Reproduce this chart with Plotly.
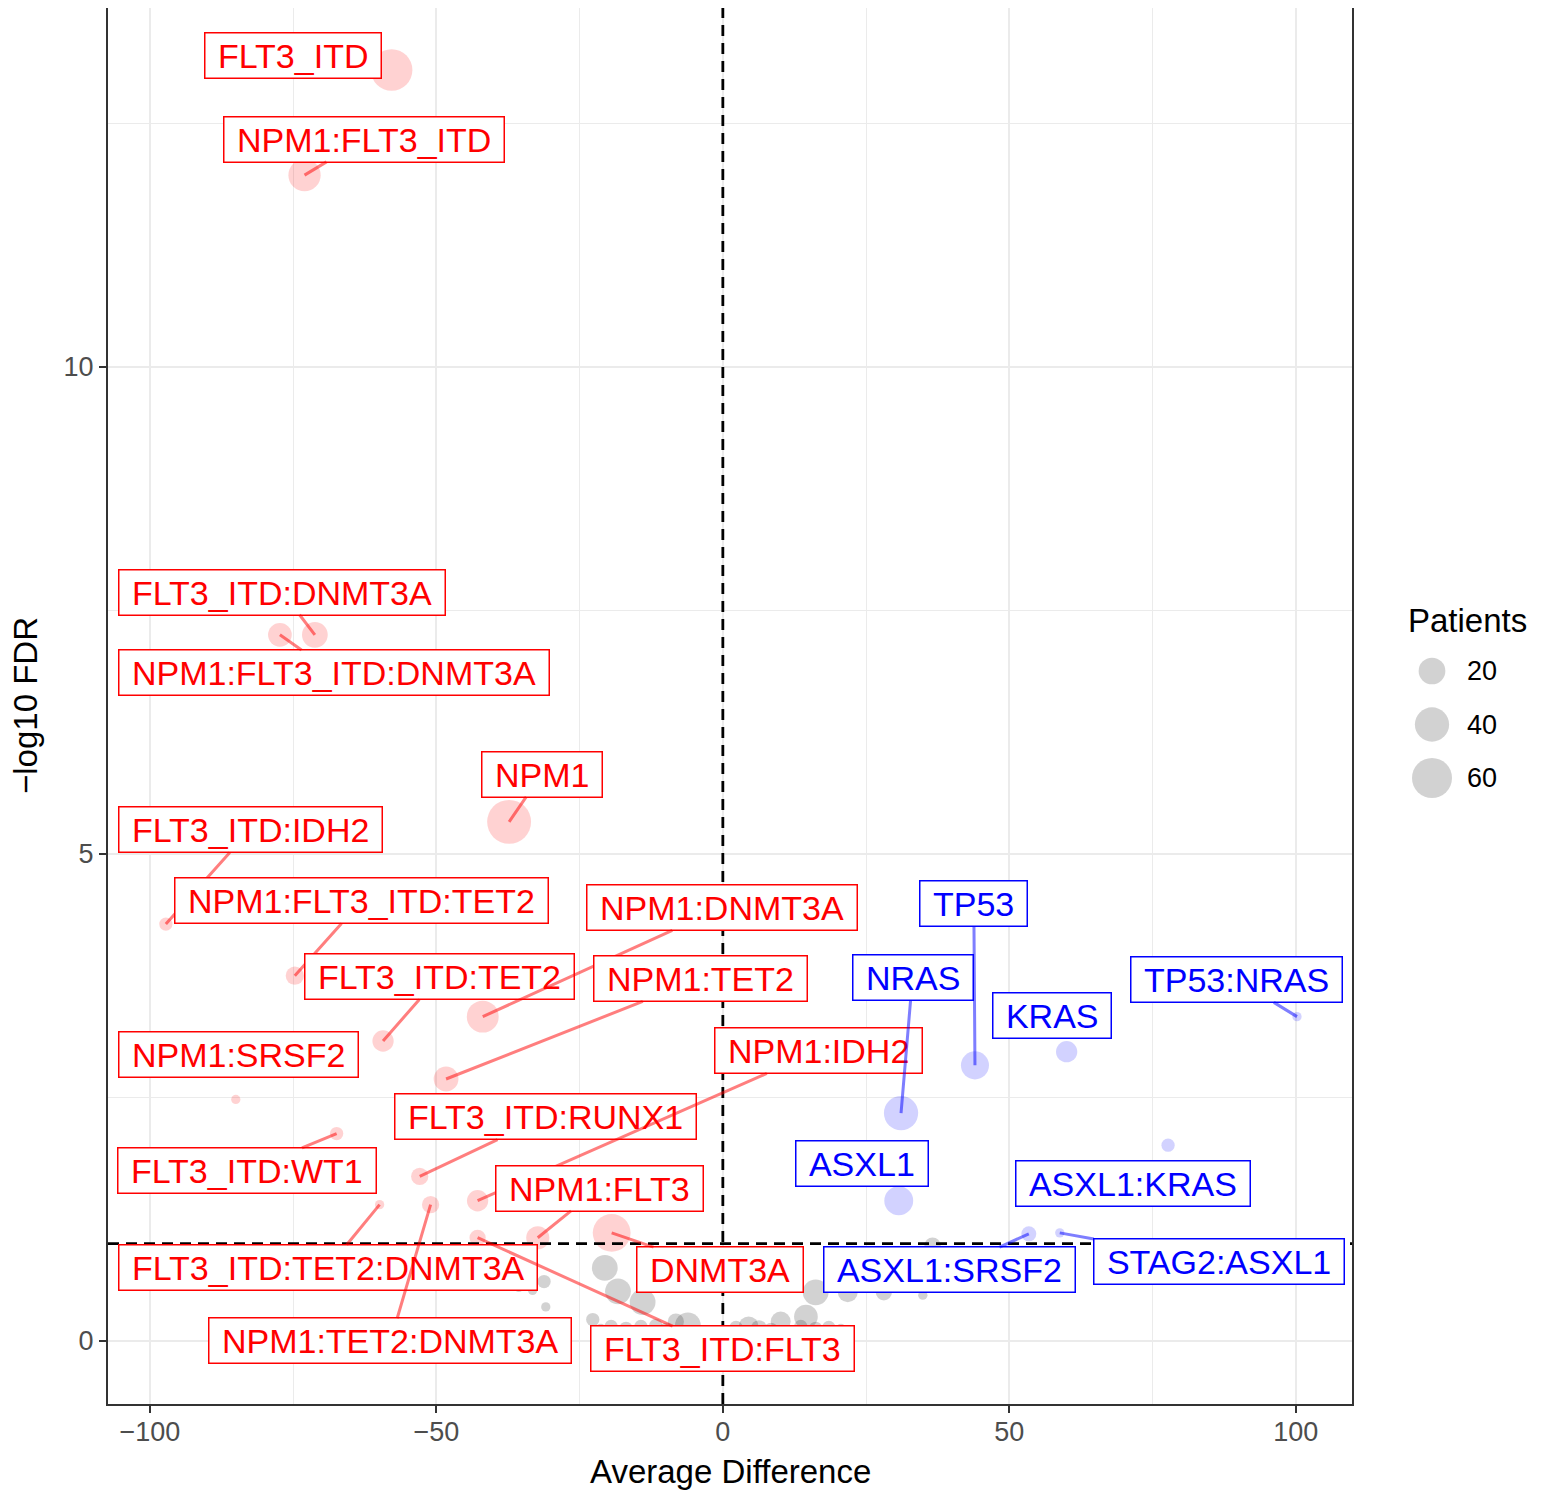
import numpy as np
import plotly.graph_objects as go

# ---------------- data ----------------
red_genes = ["FLT3_ITD", "NPM1:FLT3_ITD", "FLT3_ITD:DNMT3A", "NPM1:FLT3_ITD:DNMT3A", "NPM1",
             "FLT3_ITD:IDH2", "NPM1:FLT3_ITD:TET2", "FLT3_ITD:TET2", "NPM1:DNMT3A", "NPM1:TET2",
             "NPM1:SRSF2", "FLT3_ITD:WT1", "FLT3_ITD:RUNX1", "NPM1:IDH2", "NPM1:FLT3",
             "FLT3_ITD:TET2:DNMT3A", "NPM1:TET2:DNMT3A", "DNMT3A", "FLT3_ITD:FLT3"]
red_diff = [-57.8, -73.0, -71.2, -77.3, -37.3, -97.2, -74.7, -59.3, -41.9, -48.3,
            -85.0, -67.4, -52.9, -42.8, -32.3, -59.9, -51.0, -19.4, -42.8]
red_fdr = [13.05, 11.97, 7.25, 7.25, 5.33, 4.28, 3.75, 3.08, 3.33, 2.69,
           2.48, 2.13, 1.69, 1.44, 1.06, 1.40, 1.40, 1.11, 1.06]
red_pat = [66, 34, 18, 14, 76, 2, 6, 10, 33, 16, 1, 2, 5, 10, 13, 1, 5, 52, 4]

blue_genes = ["TP53", "NRAS", "KRAS", "TP53:NRAS", "ASXL1", "ASXL1:KRAS", "ASXL1:SRSF2", "STAG2:ASXL1"]
blue_diff = [44.0, 31.1, 60.0, 100.2, 30.7, 77.7, 53.4, 58.8]
blue_fdr = [2.83, 2.34, 2.97, 3.33, 1.44, 2.01, 1.10, 1.11]
blue_pat = [23, 40, 10, 1, 25, 2, 3, 1]

grey_diff = [-20.6, -18.3, -14.0, -31.2, -33.2, -35.6, -30.9, -22.7, -6.1, -19.5, -16.9,
             -14.3, -11.7, -9.9, 4.5, 6.3, 10.1, 14.5, 16.2, 21.8, 28.1, 34.9, 36.6,
             13.6, 16.2, 18.5, 20.6, 8.4, 2.3, -8.2, -21.3]
grey_fdr = [0.75, 0.51, 0.40, 0.61, 0.52, 0.55, 0.35, 0.22, 0.16, 0.15, 0.13,
            0.15, 0.16, 0.12, 0.15, 0.13, 0.20, 0.25, 0.50, 0.50, 0.50, 0.47, 0.98,
            0.15, 0.13, 0.14, 0.13, 0.12, 0.14, 0.20, 0.13]
grey_pat = [18, 18, 18, 2, 1, 1, 1, 2, 18, 2, 2,
            2, 2, 2, 8, 4, 8, 14, 18, 8, 4, 1, 4,
            2, 2, 2, 1, 2, 2, 4, 1]

legend_vals = [20, 40, 60]
fdr_threshold = 1.0   # -log10(0.1)
x_ticks = [-100, -50, 0, 50, 100]
y_ticks = [0, 5, 10]

# ---------------- label placement (layout, data coords of label centres) ----------------
label_pos = {
    "FLT3_ITD": (-75.1, 13.20, False),
    "NPM1:FLT3_ITD": (-62.6, 12.34, True),
    "FLT3_ITD:DNMT3A": (-76.9, 7.69, True),
    "NPM1:FLT3_ITD:DNMT3A": (-67.9, 6.86, True),
    "NPM1": (-31.6, 5.82, True),
    "FLT3_ITD:IDH2": (-82.5, 5.25, True),
    "NPM1:FLT3_ITD:TET2": (-63.0, 4.52, True),
    "FLT3_ITD:TET2": (-49.5, 3.74, True),
    "NPM1:DNMT3A": (-0.1, 4.45, True),
    "NPM1:TET2": (-3.9, 3.72, True),
    "NPM1:SRSF2": (-84.6, 2.94, False),
    "FLT3_ITD:WT1": (-83.1, 1.75, True),
    "FLT3_ITD:RUNX1": (-30.9, 2.30, True),
    "NPM1:IDH2": (16.7, 2.98, True),
    "NPM1:FLT3": (-21.6, 1.57, True),
    "FLT3_ITD:TET2:DNMT3A": (-68.9, 0.755, True),
    "NPM1:TET2:DNMT3A": (-58.0, 0.0, True),
    "DNMT3A": (-0.44, 0.73, True),
    "FLT3_ITD:FLT3": (0.0, -0.08, True),
    "TP53": (43.8, 4.49, True),
    "NRAS": (33.1, 3.73, True),
    "KRAS": (57.4, 3.34, False),
    "TP53:NRAS": (89.7, 3.71, True),
    "ASXL1": (24.3, 1.82, False),
    "ASXL1:KRAS": (71.6, 1.62, False),
    "ASXL1:SRSF2": (39.5, 0.73, True),
    "STAG2:ASXL1": (86.6, 0.82, True),
}

# ---------------- styling ----------------
PAGE_W, PAGE_H = 1546, 1491
BODY = 8                      # default page margin around the plot div
W, H = PAGE_W - BODY, PAGE_H - BODY
PLOT_LEFT, PLOT_TOP, PLOT_BOTTOM, PLOT_RIGHT = 108, 8, 1404, 1352   # page pixels
ML, MT, MB = PLOT_LEFT - BODY, PLOT_TOP - BODY, PAGE_H - PLOT_BOTTOM
XDOM_END = (PLOT_RIGHT - PLOT_LEFT) / (PAGE_W - PLOT_LEFT)
FONT = "Liberation Sans, Arial, Helvetica, sans-serif"
NBSP = "\u00a0"


def psize(p):
    p = np.asarray(p, dtype=float)
    return 9.3 + 4.0 * np.sqrt(np.maximum(p - 1.0, 0.0))


fig = go.Figure()

fig.add_trace(go.Scatter(x=grey_diff, y=grey_fdr, mode="markers",
                         marker=dict(size=psize(grey_pat), color="rgba(0,0,0,0.25)", line=dict(width=0)),
                         showlegend=False, hoverinfo="skip"))
fig.add_trace(go.Scatter(x=red_diff, y=red_fdr, mode="markers", text=red_genes,
                         marker=dict(size=psize(red_pat), color="rgba(255,0,0,0.25)", line=dict(width=0)),
                         showlegend=False))
fig.add_trace(go.Scatter(x=blue_diff, y=blue_fdr, mode="markers", text=blue_genes,
                         marker=dict(size=psize(blue_pat), color="rgba(0,0,255,0.25)", line=dict(width=0)),
                         showlegend=False))

# size legend on its own hidden axes (page-pixel coordinates)
LEG_X, LEG_Y0, LEG_DY = 1432, 671, 53.5
leg_y = [LEG_Y0 + i * LEG_DY for i in range(len(legend_vals))]
fig.add_trace(go.Scatter(x=[LEG_X] * len(legend_vals), y=leg_y, xaxis="x2", yaxis="y2", mode="markers",
                         marker=dict(size=psize(legend_vals), color="rgba(0,0,0,0.25)", line=dict(width=0)),
                         showlegend=False, hoverinfo="skip", cliponaxis=False))

annotations = []


def add_labels(genes, xs, ys, color, seg_color):
    for g, x, y in zip(genes, xs, ys):
        lx, ly, arrow = label_pos[g]
        common = dict(text=NBSP + g + NBSP, font=dict(family=FONT, size=34, color=color),
                      bgcolor="white", bordercolor=color, borderwidth=1.5, borderpad=3,
                      xref="x", yref="y")
        if arrow:
            annotations.append(dict(x=x, y=y, ax=lx, ay=ly, axref="x", ayref="y", showarrow=True,
                                    arrowhead=0, arrowwidth=3, arrowcolor=seg_color, standoff=0,
                                    **common))
        else:
            annotations.append(dict(x=lx, y=ly, showarrow=False, **common))


add_labels(red_genes, red_diff, red_fdr, "#FF0000", "rgba(255,0,0,0.5)")
add_labels(blue_genes, blue_diff, blue_fdr, "#0000FF", "rgba(0,0,255,0.5)")

# axis titles
annotations.append(dict(text="Average Difference", xref="paper", yref="paper", x=XDOM_END / 2, y=0,
                        yshift=-(1471 - PLOT_BOTTOM), xanchor="center", yanchor="middle", showarrow=False,
                        font=dict(family=FONT, size=33, color="black")))
annotations.append(dict(text="\u2212log10 FDR", xref="paper", yref="paper", x=0, y=0.5,
                        xshift=-(PLOT_LEFT - 25), xanchor="center", yanchor="middle", textangle=-90,
                        showarrow=False, font=dict(family=FONT, size=33, color="black")))
# legend title and labels
annotations.append(dict(text="Patients", xref="x2", yref="y2", x=1406, y=620, xanchor="left",
                        yanchor="middle", showarrow=False, font=dict(family=FONT, size=33, color="black")))
for v, yy in zip(legend_vals, leg_y):
    annotations.append(dict(text=str(v), xref="x2", yref="y2", x=1465, y=yy, xanchor="left",
                            yanchor="middle", showarrow=False, font=dict(family=FONT, size=27, color="black")))

shapes = [
    dict(type="line", xref="x", yref="y domain", x0=0, x1=0, y0=0, y1=1,
         line=dict(color="black", width=2.8, dash="11px,7px"), layer="above"),
    dict(type="line", xref="x domain", yref="y", x0=0, x1=1, y0=fdr_threshold, y1=fdr_threshold,
         line=dict(color="black", width=2.8, dash="11px,7px"), layer="above"),
]

axis_common = dict(showgrid=True, gridcolor="#EBEBEB", gridwidth=2, zeroline=False,
                   showline=True, linecolor="#333333", linewidth=2, mirror=True,
                   ticks="outside", ticklen=7, tickwidth=2, tickcolor="#333333",
                   tickfont=dict(family=FONT, size=27, color="#4D4D4D"), automargin=False)

fig.update_layout(
    width=W, height=H,
    margin=dict(l=ML, r=0, t=MT, b=MB, pad=0),
    plot_bgcolor="white", paper_bgcolor="white",
    font=dict(family=FONT),
    xaxis=dict(domain=[0, XDOM_END], range=[-107.3, 109.8], tickvals=x_ticks, ticklabelstandoff=-4,
               minor=dict(tickvals=[-75, -25, 25, 75], showgrid=True, gridcolor="#EBEBEB", gridwidth=1, ticks=""),
               **axis_common),
    yaxis=dict(domain=[0, 1], range=[-0.647, 13.686], tickvals=y_ticks,
               minor=dict(tickvals=[2.5, 7.5, 12.5], showgrid=True, gridcolor="#EBEBEB", gridwidth=1, ticks=""),
               **axis_common),
    xaxis2=dict(domain=[(1390 - PLOT_LEFT) / (PAGE_W - PLOT_LEFT), 1], range=[1390, PAGE_W],
                visible=False, anchor="y2"),
    yaxis2=dict(domain=[0, 1], range=[PLOT_BOTTOM, PLOT_TOP], visible=False, anchor="x2"),
    annotations=annotations,
    shapes=shapes,
    hovermode="closest",
)

fig.write_html("out.html")
